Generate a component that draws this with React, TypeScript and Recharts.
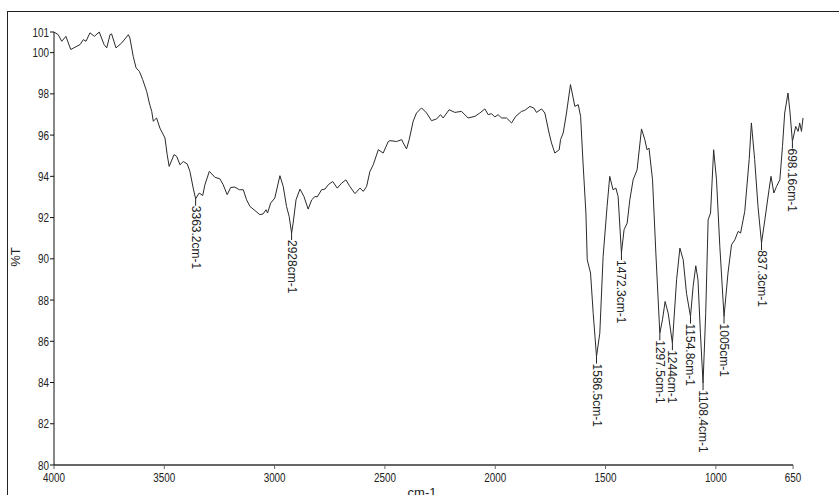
import React from 'react';
import { LineChart, Line, XAxis, YAxis, ReferenceLine } from 'recharts';

// IR spectrum: wavenumber (cm-1, axis position) and %T
const WAVENUMBER = [
  4000, 3981, 3965, 3946, 3924, 3905, 3882, 3867, 3855, 3837, 3817, 3795, 3773, 3761, 3746, 3739, 3719, 3693, 3663, 3656,
  3641, 3628, 3613, 3598, 3580, 3568, 3557, 3550, 3535, 3520, 3497, 3487, 3478, 3456, 3444, 3429, 3414, 3396, 3384, 3369,
  3358, 3342, 3326, 3316, 3296, 3270, 3248, 3233, 3215, 3199, 3180, 3160, 3142, 3127, 3112, 3089, 3067, 3052, 3039, 3032,
  3018, 2999, 2976, 2961, 2946, 2934, 2923, 2916, 2903, 2885, 2867, 2848, 2832, 2817, 2807, 2787, 2772, 2757, 2737, 2716,
  2696, 2677, 2659, 2636, 2613, 2598, 2583, 2568, 2553, 2530, 2508, 2485, 2477, 2447, 2424, 2417, 2402, 2390, 2372, 2357,
  2334, 2311, 2289, 2266, 2248, 2236, 2209, 2183, 2153, 2123, 2092, 2070, 2047, 2032, 2017, 2002, 1987, 1971, 1949, 1926,
  1907, 1881, 1866, 1843, 1825, 1813, 1790, 1775, 1756, 1745, 1730, 1710, 1704, 1692, 1677, 1659, 1639, 1624, 1613, 1602,
  1589, 1583, 1568, 1556, 1541, 1526, 1511, 1493, 1481, 1466, 1453, 1443, 1428, 1416, 1402, 1390, 1375, 1357, 1337, 1322,
  1312, 1303, 1287, 1272, 1254, 1242, 1230, 1216, 1197, 1178, 1163, 1148, 1133, 1115, 1103, 1091, 1081, 1070, 1058, 1046,
  1035, 1024, 1010, 997, 982, 963, 945, 929, 914, 899, 888, 869, 849, 839, 824, 809, 793, 778, 759, 750,
  737, 725, 710, 698, 688, 673, 665, 653, 638, 627, 620, 612, 605,
];
const TRANSMITTANCE = [
  101.0, 100.87, 100.55, 100.79, 100.15, 100.26, 100.39, 100.63, 100.55, 100.96, 100.79, 101.0, 100.39, 100.23, 100.87, 100.91, 100.23, 100.47, 100.87, 100.71,
  99.82, 99.26, 99.09, 98.69, 98.12, 97.56, 97.15, 96.67, 96.83, 96.34, 95.86, 95.05, 94.48, 95.05, 94.97, 94.56, 94.72, 94.6, 94.24, 93.43,
  92.91, 93.19, 93.07, 93.59, 94.24, 93.95, 93.88, 93.59, 93.11, 93.46, 93.48, 93.35, 93.35, 92.86, 92.54, 92.34, 92.14, 92.18, 92.38, 92.22,
  92.7, 92.95, 94.03, 93.51, 92.54, 92.05, 91.25, 91.73, 92.86, 93.38, 93.02, 92.41, 92.86, 93.02, 93.0, 93.35, 93.38, 93.59, 93.75, 93.43,
  93.67, 93.83, 93.51, 93.16, 93.43, 93.27, 93.51, 94.24, 94.56, 95.29, 95.13, 95.69, 95.73, 95.69, 95.78, 95.62, 95.33, 95.78, 96.67, 97.07,
  97.32, 97.07, 96.7, 96.78, 96.99, 96.83, 97.23, 97.1, 97.15, 96.83, 96.91, 97.07, 97.27, 96.99, 97.04, 96.88, 96.99, 96.83, 96.83, 96.59,
  96.91, 97.15, 97.2, 97.39, 97.31, 97.1, 97.27, 97.07, 96.1, 95.62, 95.13, 95.29, 95.78, 96.1, 97.07, 98.45, 97.39, 97.48, 96.91, 94.65,
  92.22, 89.95, 89.31, 87.36, 85.26, 86.39, 90.11, 92.54, 94.0, 93.35, 93.43, 93.02, 90.28, 91.41, 91.73, 92.86, 93.83, 94.32, 96.3, 95.78,
  95.29, 95.37, 93.83, 90.28, 86.39, 87.04, 87.93, 87.36, 85.91, 88.98, 90.52, 89.95, 88.33, 87.2, 88.66, 89.66, 88.98, 86.39, 83.97, 87.36,
  91.89, 92.22, 95.29, 93.83, 90.6, 87.2, 89.31, 90.68, 90.92, 91.33, 91.25, 92.3, 94.81, 96.59, 94.81, 92.54, 90.76, 91.89, 93.35, 94.0,
  93.19, 93.51, 93.83, 95.45, 97.07, 98.04, 97.23, 95.69, 96.42, 96.18, 96.59, 96.18, 96.83,
];

// Peak annotations: position of the marked minimum on the plotted curve and its printed label
const PEAK_WAVENUMBER = [3358, 2923, 1541, 1428, 1254, 1197, 1115, 1058, 963, 793, 653];
const PEAK_TRANSMITTANCE = [92.91, 91.25, 85.26, 90.28, 86.39, 85.91, 87.2, 83.97, 87.2, 90.76, 95.69];
const PEAK_LABELS = [
  '3363.2cm-1', '2928cm-1', '1586.5cm-1', '1472.3cm-1', '1297.5cm-1', '1244cm-1',
  '1154.8cm-1', '1108.4cm-1', '1005cm-1', '837.3cm-1', '698.16cm-1',
];

const X_TICKS = [4000, 3500, 3000, 2500, 2000, 1500, 1000, 650];
const Y_TICKS = [80, 82, 84, 86, 88, 90, 92, 94, 96, 98, 100, 101];

const spectrum = WAVENUMBER.map((w, i) => ({ wn: w, t: TRANSMITTANCE[i] }));
const peaks = PEAK_WAVENUMBER.map((w, i) => ({ wn: w, t: PEAK_TRANSMITTANCE[i], label: PEAK_LABELS[i] }));

const SANS = "'Liberation Sans', Arial, sans-serif";
const SQUEEZE = 0.76;

const XTick = (props: any) => {
  const { x, y, payload } = props;
  return (
    <g transform={`translate(${x},${y})`}>
      <text transform={`scale(${SQUEEZE},1)`} x={0} y={0} dy="0.71em" textAnchor="middle"
        fontSize={13} fontFamily={SANS} fill="#222">
        {payload.value}
      </text>
    </g>
  );
};

const YTick = (props: any) => {
  const { x, y, payload } = props;
  return (
    <g transform={`translate(${x},${y})`}>
      <text transform={`scale(${SQUEEZE},1)`} x={0} y={0} dy="0.355em" textAnchor="end"
        fontSize={13} fontFamily={SANS} fill="#222">
        {payload.value}
      </text>
    </g>
  );
};

const PeakMarker = (props: any) => {
  const { cx, cy, payload, index } = props;
  if (cx == null || cy == null) return null;
  const ty = cy + 7;
  return (
    <g key={`pk-${index}`}>
      <line x1={cx} y1={cy} x2={cx} y2={ty} stroke="#222" strokeWidth={1} />
      <text
        x={cx}
        y={ty}
        transform={`rotate(90 ${cx} ${ty})`}
        fontSize={12}
        fontFamily={SANS}
        fill="#222"
        textAnchor="start"
        dominantBaseline="central"
      >
        {payload.label}
      </text>
    </g>
  );
};

export default function App() {
  return (
    <div style={{ position: 'absolute', left: 0, top: 0, width: 839, height: 495, overflow: 'hidden', background: '#fff' }}>
      <div
        style={{
          position: 'absolute', left: 7, top: 11, width: 900, height: 600,
          borderLeft: '1px solid #222', borderTop: '1px solid #222', boxSizing: 'border-box',
        }}
      />
      <div style={{ position: 'absolute', left: 0, top: 0 }}>
        <LineChart width={839} height={495} margin={{ top: 32, right: 36, left: 0, bottom: 0 }}>
          <XAxis
            type="number"
            dataKey="wn"
            domain={[605, 4000]}
            reversed
            ticks={X_TICKS}
            interval={0}
            height={30}
            axisLine={false}
            tickLine={{ stroke: '#666' }}
            tickSize={4}
            tickMargin={4}
            tick={<XTick />}
          />
          <YAxis
            type="number"
            domain={[80, 101]}
            ticks={Y_TICKS}
            interval={0}
            width={54}
            axisLine={{ stroke: '#111' }}
            tickLine={{ stroke: '#111' }}
            tickSize={4}
            tickMargin={1}
            tick={<YTick />}
          />
          <Line
            data={spectrum}
            dataKey="t"
            type="linear"
            stroke="#2a2a2a"
            strokeWidth={1}
            dot={false}
            activeDot={false}
            isAnimationActive={false}
          />
          <Line
            data={peaks}
            dataKey="t"
            stroke="none"
            dot={<PeakMarker />}
            activeDot={false}
            isAnimationActive={false}
          />
          <ReferenceLine
            segment={[{ x: 4000, y: 80 }, { x: 650, y: 80 }]}
            stroke="#666"
            strokeWidth={2}
          />
        </LineChart>
      </div>
      <svg width={839} height={495} style={{ position: 'absolute', left: 0, top: 0, pointerEvents: 'none' }}>
        <text x={15} y={257} transform="rotate(-90 15 257)" textAnchor="middle" dominantBaseline="central"
          fontSize={13} fontFamily={SANS} fill="#222">%T</text>
        <text x={422} y={497} textAnchor="middle" fontSize={13} fontFamily={SANS} fill="#222">cm-1</text>
      </svg>
    </div>
  );
}
